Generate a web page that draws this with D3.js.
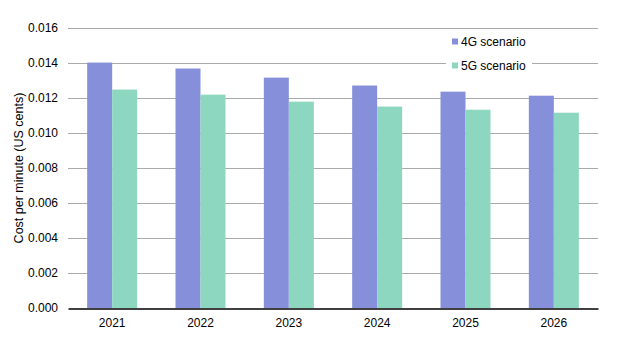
<!DOCTYPE html>
<html><head><meta charset="utf-8">
<script src="https://cdn.jsdelivr.net/npm/d3@7"></script>
<style>body{margin:0;background:#fff}svg{display:block}text{font-family:"Liberation Sans",Arial,sans-serif;fill:#000}</style>
</head><body><svg id="c" width="630" height="355"></svg>
<script>
const years = ["2021","2022","2023","2024","2025","2026"];
const series = ["4G scenario","5G scenario"];
const values4G = [0.0140,0.01366,0.01314,0.01269,0.01234,0.01211];
const values5G = [0.01246,0.01217,0.01177,0.01149,0.01131,0.01114];
const yTicks = [0,0.002,0.004,0.006,0.008,0.010,0.012,0.014,0.016];
const colors = ["#868fd9","#8dd7c0"];

const svg = d3.select("#c");
const m = {l:68, r:32, t:27.5, b:47};
const W = 630, H = 355;
const x = d3.scaleBand().domain(years).range([m.l, W-m.r]).paddingInner(0).paddingOuter(0);
const xs = d3.scaleBand().domain(series).range([0, 50]);
const y = d3.scaleLinear().domain([0,0.016]).range([H-m.b, m.t]);

// gridlines
svg.append("g").selectAll("line").data(yTicks.slice(1)).join("line")
  .attr("x1", m.l).attr("x2", W-m.r)
  .attr("y1", d=>Math.round(y(d))+0.5).attr("y2", d=>Math.round(y(d))+0.5)
  .attr("stroke","#aaaaaa").attr("stroke-width",1);

// y tick labels
const yAxis = d3.axisLeft(y).tickValues(yTicks).tickFormat(d3.format(".3f")).tickSize(0).tickPadding(10);
const ga = svg.append("g").attr("transform",`translate(${m.l},0)`).call(yAxis);
ga.select(".domain").remove();
ga.selectAll("text").attr("font-size","12px").attr("font-family","Liberation Sans, Arial, sans-serif").attr("fill","#000");

// bars
const data = years.map((yr,i)=>({yr, vals:[values4G[i], values5G[i]]}));
const grp = svg.append("g").selectAll("g").data(data).join("g")
  .attr("transform", d=>`translate(${x(d.yr)+x.bandwidth()/2-25},0)`);
grp.selectAll("rect").data(d=>d.vals.map((v,j)=>({v, s:series[j], j}))).join("rect")
  .attr("x", d=>xs(d.s)).attr("width", xs.bandwidth())
  .attr("y", d=>y(d.v)).attr("height", d=>y(0)-y(d.v))
  .attr("fill", d=>colors[d.j]);

// x axis
const xAxis = d3.axisBottom(x).tickSize(0).tickPadding(10);
const gx = svg.append("g").attr("transform",`translate(0,${Math.round(y(0))+0.5})`).call(xAxis);
gx.select(".domain").attr("stroke","#000").attr("stroke-width",1.3);
gx.selectAll("text").attr("font-size","12px").attr("font-family","Liberation Sans, Arial, sans-serif").attr("fill","#000");

// y title
svg.append("text").attr("transform",`translate(22.5,${168}) rotate(-90)`)
  .attr("text-anchor","middle").attr("font-size","12.5px").text("Cost per minute (US cents)");

// legend
const lg = svg.append("g");
lg.append("rect").attr("x",446).attr("y",30).attr("width",86).attr("height",48).attr("fill","#fff");
series.forEach((s,i)=>{
  lg.append("rect").attr("x",452).attr("y",38.5+i*24).attr("width",6).attr("height",6).attr("fill",colors[i]);
  lg.append("text").attr("x",461).attr("y",46+i*24).attr("font-size","12px").text(s);
});
</script></body></html>
